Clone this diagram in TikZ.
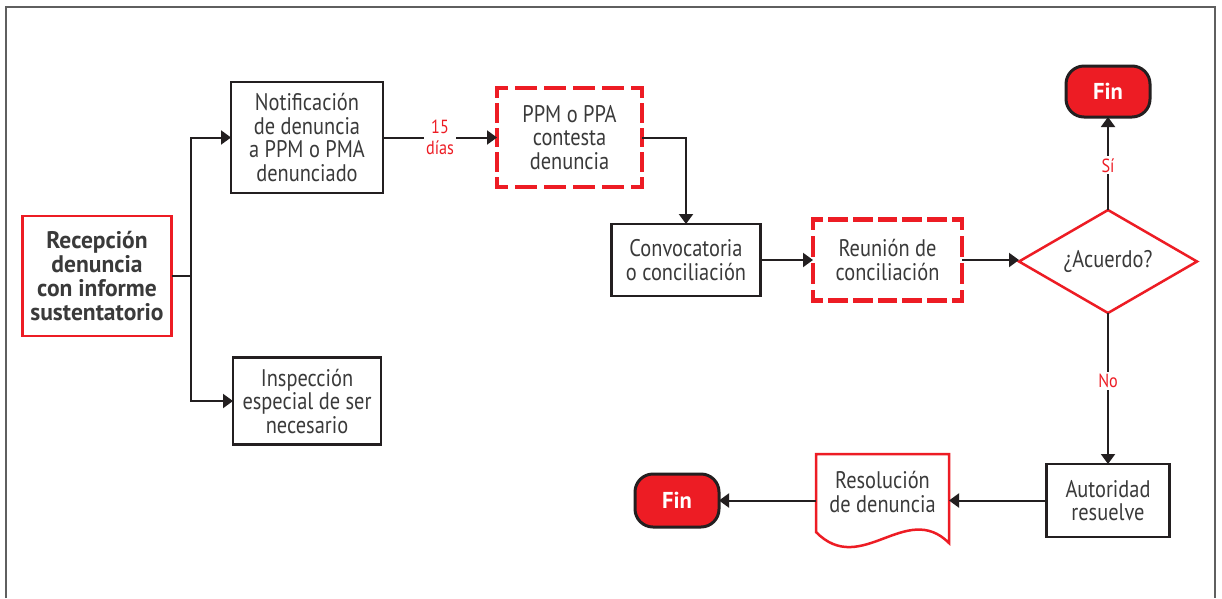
\documentclass[tikz,border=0pt]{standalone}
\usepackage{fontspec}
\setmainfont{PT Sans}[FakeStretch=0.85]
\newfontfamily\heavy{PT Sans}[FakeStretch=0.98]
\usetikzlibrary{shapes.geometric,arrows.meta,calc}
\definecolor{flowred}{HTML}{ED1C24}
\definecolor{ink}{HTML}{231F20}
\definecolor{txt}{HTML}{3A3A3A}
\definecolor{framegray}{HTML}{5F5F5F}

% dashed red outline, each side drawn separately so every corner is a closed L
\newcommand\reddashsides[1]{%
  \pgfpointdiff{\pgfpointanchor{#1}{north west}}{\pgfpointanchor{#1}{south east}}%
  \pgfgetlastxy{\rdbw}{\rdbh}%
  \pgfmathsetmacro\rdw{abs(\rdbw)}%
  \pgfmathsetmacro\rdh{abs(\rdbh)}%
  \pgfmathsetmacro\rdpw{\rdw/max(1,round(\rdw/27))}%
  \pgfmathsetmacro\rdph{\rdh/max(1,round(\rdh/27))}%
  \pgfmathsetmacro\rdDw{0.62*\rdpw}\pgfmathsetmacro\rdGw{0.38*\rdpw}\pgfmathsetmacro\rdHw{0.31*\rdpw}%
  \pgfmathsetmacro\rdDh{0.62*\rdph}\pgfmathsetmacro\rdGh{0.38*\rdph}\pgfmathsetmacro\rdHh{0.31*\rdph}%
  \draw[dashside,dash pattern=on \rdDw pt off \rdGw pt,dash phase=\rdHw pt] (#1.north west) -- (#1.north east);
  \draw[dashside,dash pattern=on \rdDw pt off \rdGw pt,dash phase=\rdHw pt] (#1.south west) -- (#1.south east);
  \draw[dashside,dash pattern=on \rdDh pt off \rdGh pt,dash phase=\rdHh pt] (#1.north west) -- (#1.south west);
  \draw[dashside,dash pattern=on \rdDh pt off \rdGh pt,dash phase=\rdHh pt] (#1.north east) -- (#1.south east);
}

\tikzset{
  every node/.style={text=txt,font=\fontsize{24}{23.5}\selectfont,align=center},
  blackbox/.style={draw=ink,line width=2.5pt,rectangle,inner sep=0pt,outer sep=0pt},
  redbox/.style={draw=flowred,line width=2.5pt,rectangle,inner sep=0pt,outer sep=0pt,
    font=\heavy\fontsize{24}{24}\bfseries\selectfont},
  dashbox/.style={rectangle,inner sep=0pt,outer sep=0pt},
  dashside/.style={draw=flowred,line width=4.5pt,line cap=rect},
  decision/.style={diamond,draw=flowred,line width=2.5pt,inner sep=0pt,outer sep=0pt,aspect=2},
  finbox/.style={rectangle,rounded corners=18pt,fill=flowred,draw=ink,line width=3pt,
    inner sep=0pt,outer sep=0pt,text=white,font=\heavy\fontsize{23}{24}\bfseries\selectfont},
  docbox/.style={rectangle,inner sep=0pt,outer sep=0pt},
  docline/.style={draw=flowred,line width=2.5pt,line join=miter},
  link/.style={draw=ink,line width=2pt},
  arrow/.style={link,-{Triangle[length=10pt,width=14pt]}},
  tag/.style={text=flowred,fill=white,inner sep=2pt,font=\fontsize{19}{21}\selectfont},
  frame/.style={draw=framegray,line width=1.5pt}
}

\begin{document}
\begin{tikzpicture}[x=1pt,y=-1pt]
\useasboundingbox (0,0) rectangle (1222,598);
\fill[white] (0,0) rectangle (1222,598);

% outer frame (open at the bottom)
\draw[frame] (6,598) -- (6,7) -- (1215,7) -- (1215,598);

% boxes
\node[redbox,minimum width=149pt,minimum height=120pt] (rec) at (97,276)
  {Recepción\\denuncia\\con informe\\sustentatorio};
\node[blackbox,minimum width=152pt,minimum height=111pt] (notif) at (307,137.5)
  {Notificación\\de denuncia\\a PPM o PMA\\denunciado};
\node[blackbox,minimum width=148pt,minimum height=87pt] (insp) at (307,401)
  {Inspección\\especial de ser\\necesario};
\node[dashbox,minimum width=145pt,minimum height=99pt] (ppm) at (569.5,137.5)
  {PPM o PPA\\contesta\\denuncia};
\node[blackbox,minimum width=149pt,minimum height=72pt] (conv) at (686,260)
  {Convocatoria\\o conciliación};
\node[dashbox,minimum width=149pt,minimum height=81pt] (reu) at (887.5,260)
  {Reunión de\\conciliación};
\node[decision,minimum width=178pt,minimum height=103pt] (dia) at (1108,261.5)
  {¿Acuerdo?};
\node[finbox,minimum width=84pt,minimum height=51pt] (finA) at (1108,91.5) {Fin};
\node[blackbox,minimum width=123pt,minimum height=73pt] (aut) at (1108,500.5)
  {Autoridad\\resuelve};
\node[docbox,minimum width=133pt,minimum height=76pt] (doc) at (882.5,492)
  {Resolución\\de denuncia};
\node[finbox,minimum width=84pt,minimum height=53pt] (finB) at (677,500.5) {Fin};

% dashed outlines
\reddashsides{ppm}
\reddashsides{reu}

% document outline with wavy bottom edge
\draw[docline] (doc.north east) -- (doc.north west)
  -- ($(doc.south west)+(0,2)$)
  .. controls ($(doc.south west)+(45,48)$) and ($(doc.south west)+(90,-30)$) ..
  ($(doc.south west)+(133,13)$) -- cycle;

% connectors
\coordinate (trunk) at (191,276);
\draw[link] (rec.east) -- (trunk);
\draw[arrow] (trunk) |- (notif.west);
\draw[arrow] (trunk) |- (insp.west);
\draw[arrow] (notif.east) -- node[tag] {15\\días} (ppm.west);
\draw[arrow] (ppm.east) -| (conv.north);
\draw[arrow] (conv.east) -- (reu.west);
\draw[arrow] (reu.east) -- (reu.east -| dia.west);
\draw[arrow] (dia.north) -- node[tag,pos=0.48] {Sí} (finA.south);
\draw[arrow] (dia.south) -- node[tag,pos=0.45] {No} (aut.north);
\draw[arrow] (aut.west) -- (aut.west -| doc.east);
\draw[arrow] (aut.west -| doc.west) -- (finB.east);
\end{tikzpicture}
\end{document}
